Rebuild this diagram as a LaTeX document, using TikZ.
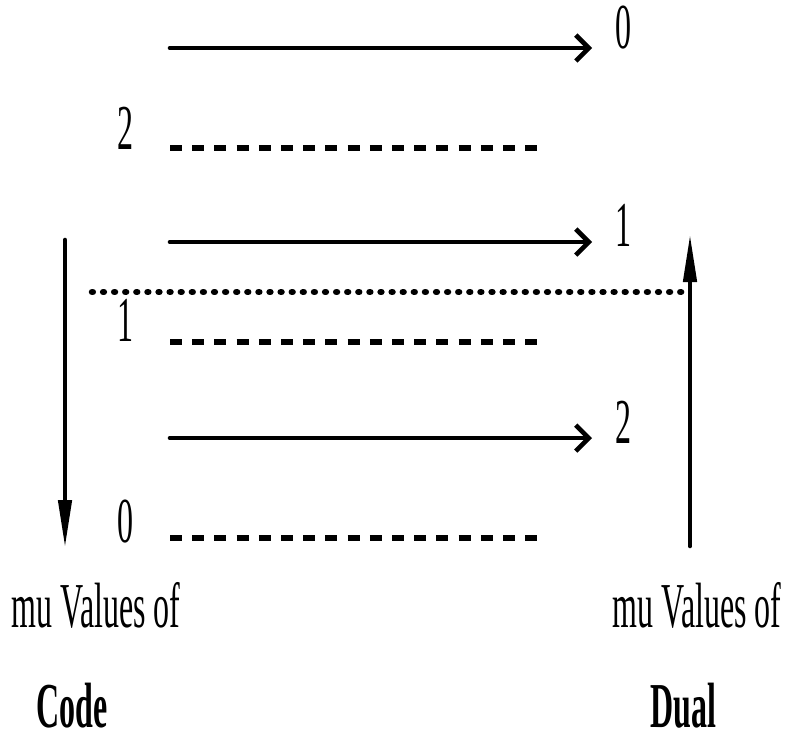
\documentclass[tikz,border=0pt]{standalone}
\usepackage{fontspec}
\setmainfont{Liberation Serif}[FakeStretch=0.5]
\usetikzlibrary{arrows.meta}
\begin{document}
\begin{tikzpicture}[x=1pt,y=-1pt,
  level/.style={line width=4.6pt,line cap=round,-{Straight Barb[length=13pt,width=26pt,line width=4.6pt]}},
  rung/.style={line width=5.5pt,dash pattern=on 12pt off 10.2pt},
  split/.style={line width=6.5pt,line cap=round,dash pattern=on 0.8pt off 10.3pt},
  axis/.style={line width=4.6pt,line cap=round,-{Triangle[length=48pt,width=13pt]}},
  lbl/.style={inner sep=0pt,font=\fontsize{64}{68}\selectfont},
  head/.style={inner sep=0pt,font=\fontsize{64}{68}\selectfont\bfseries}]
\useasboundingbox (0,0) rectangle (790,742);

% transitions of the dual code, pointing right
\coordinate (a0s) at (170,48);  \coordinate (a0e) at (592,48);
\coordinate (a1s) at (170,242); \coordinate (a1e) at (592,242);
\coordinate (a2s) at (170,438); \coordinate (a2e) at (592,438);
\draw[level] (a0s) -- (a0e);
\draw[level] (a1s) -- (a1e);
\draw[level] (a2s) -- (a2e);
\node[lbl] (d0) at (623,28) {0};
\node[lbl] (d1) at (623,225) {1};
\node[lbl] (d2) at (623,422) {2};

% levels of the code, dashed
\coordinate (c2s) at (170,148); \coordinate (c2e) at (537.2,148);
\coordinate (c1s) at (170,342); \coordinate (c1e) at (537.2,342);
\coordinate (c0s) at (170,538); \coordinate (c0e) at (537.2,538);
\draw[rung] (c2s) -- (c2e);
\draw[rung] (c1s) -- (c1e);
\draw[rung] (c0s) -- (c0e);
\node[lbl] (k2) at (125,128) {2};
\node[lbl] (k1) at (125,320) {1};
\node[lbl] (k0) at (125,522) {0};

% dotted separator
\coordinate (ss) at (92,292); \coordinate (se) at (686,292);
\draw[split] (ss) -- (se);

% direction axes
\coordinate (lt) at (65,240); \coordinate (lb) at (65,548);
\coordinate (rb) at (690,546); \coordinate (rt) at (690,234);
\draw[axis] (lt) -- (lb);
\draw[axis] (rb) -- (rt);

% captions
\node[lbl] (mc) at (96,605) {mu Values of};
\node[lbl] (md) at (697,605) {mu Values of};
\node[head] (tc) at (72,706) {Code};
\node[head] (td) at (683,706) {Dual};
\end{tikzpicture}
\end{document}
